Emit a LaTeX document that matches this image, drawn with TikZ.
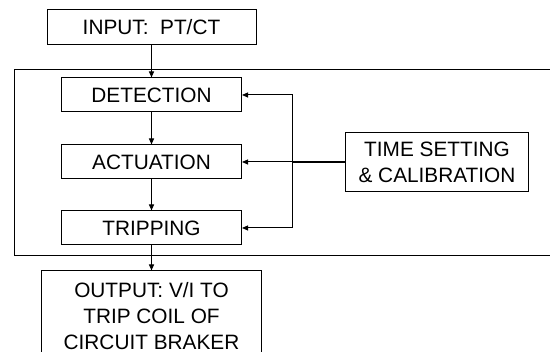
\documentclass[tikz,border=0pt]{standalone}
\usepackage{fontspec}
\setmainfont{Liberation Sans}
\usetikzlibrary{arrows.meta,positioning}
\tikzset{
  blk/.style={draw,rectangle,line width=1pt,align=center,inner sep=0pt,
    font=\fontsize{20.8}{26}\selectfont},
  inblk/.style={blk,minimum width=209pt,minimum height=35pt},
  stageblk/.style={blk,minimum width=180pt,minimum height=34pt},
  setblk/.style={blk,minimum width=183pt,minimum height=59pt},
  outblk/.style={blk,minimum width=220pt,inner ysep=11pt},
  arr/.style={-{Triangle[length=6pt,width=5pt]},line width=1pt},
  ln/.style={line width=1pt}
}
\begin{document}
\begin{tikzpicture}[x=1pt,y=-1pt]
  \useasboundingbox (0,0) rectangle (550,352);
  \draw[ln] (14,70) rectangle (565,256);

  \node[inblk] (inp) at (151.5,27.5) {INPUT:~ PT/CT};
  \node[stageblk, below=32pt of inp] (det) {DETECTION};
  \node[stageblk, below=32pt of det] (act) {ACTUATION};
  \node[stageblk, below=31pt of act] (trip) {TRIPPING};
  \node[outblk, below=25pt of trip] (out) {OUTPUT: V/I TO\\TRIP COIL OF\\CIRCUIT BRAKER};
  \node[setblk, right=103pt of act] (time) {TIME SETTING\\\& CALIBRATION};
  \coordinate (fb) at (292,0 |- act.east);

  \draw[arr] (inp)--(det);
  \draw[arr] (det)--(act);
  \draw[arr] (act)--(trip);
  \draw[arr] (trip)--(out);
  \draw[ln,line width=1.6pt] (time.west)--(fb);
  \draw[arr] (fb)--(act.east);
  \draw[arr] (fb) |- (det.east);
  \draw[arr] (fb) |- (trip.east);
\end{tikzpicture}
\end{document}
